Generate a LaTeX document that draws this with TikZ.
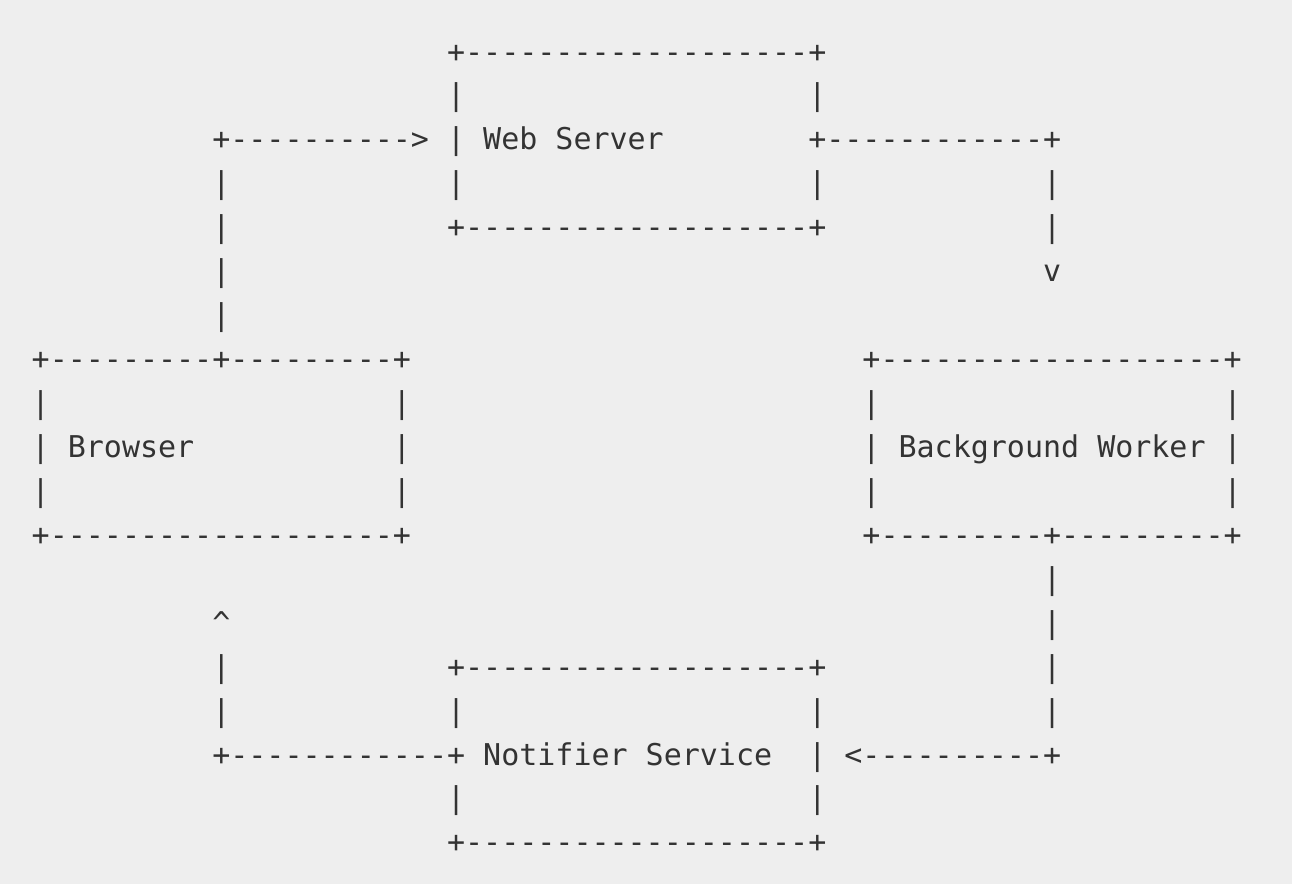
\documentclass[tikz,border=0pt]{standalone}
\usepackage{fontspec}
\setmonofont{DejaVu Sans Mono}
\definecolor{bg}{HTML}{EEEEEE}
\definecolor{ink}{HTML}{333333}
% place a run of characters at (column,row) of the character grid
\newcommand\asc[4]{\node[glyphs] (#1) at ({31.7+18.06*#2},{62+43.94*#3}) {#4};}
\begin{document}
\begin{tikzpicture}[x=1pt,y=-1pt,
  glyphs/.style={anchor=base west, inner sep=0pt, outer sep=0pt, text=ink,
    font=\ttfamily\fontsize{30}{36}\selectfont}]
\fill[bg] (0,0) rectangle (1292,884);
\useasboundingbox (0,0) rectangle (1292,884);
% Web Server box
\asc{wsT}{23}{0}{+-------------------+}
\asc{wsL1}{23}{1}{|}
\asc{wsR1}{43}{1}{|}
\asc{arrowIn}{10}{2}{+---------->}
\asc{ws}{23}{2}{| Web Server}
\asc{wsOut}{43}{2}{+------------+}
\asc{lA3}{10}{3}{|}
\asc{wsL3}{23}{3}{|}
\asc{wsR3}{43}{3}{|}
\asc{rA3}{56}{3}{|}
\asc{lA4}{10}{4}{|}
\asc{wsB}{23}{4}{+-------------------+}
\asc{rA4}{56}{4}{|}
\asc{lA5}{10}{5}{|}
\asc{rArrow}{56}{5}{v}
\asc{lA6}{10}{6}{|}
% Browser and Background Worker boxes
\asc{brT}{0}{7}{+---------+---------+}
\asc{bwT}{46}{7}{+-------------------+}
\asc{brL8}{0}{8}{|}
\asc{brR8}{20}{8}{|}
\asc{bwL8}{46}{8}{|}
\asc{bwR8}{66}{8}{|}
\asc{br}{0}{9}{| Browser}
\asc{brR9}{20}{9}{|}
\asc{bw}{46}{9}{| Background Worker |}
\asc{brL10}{0}{10}{|}
\asc{brR10}{20}{10}{|}
\asc{bwL10}{46}{10}{|}
\asc{bwR10}{66}{10}{|}
\asc{brB}{0}{11}{+-------------------+}
\asc{bwB}{46}{11}{+---------+---------+}
% lower connectors and Notifier Service box
\asc{rB12}{56}{12}{|}
\asc{lArrow}{10}{13}{\textasciicircum}
\asc{rB13}{56}{13}{|}
\asc{lB14}{10}{14}{|}
\asc{nsT}{23}{14}{+-------------------+}
\asc{rB14}{56}{14}{|}
\asc{lB15}{10}{15}{|}
\asc{nsL15}{23}{15}{|}
\asc{nsR15}{43}{15}{|}
\asc{rB15}{56}{15}{|}
\asc{ns}{10}{16}{+------------+ Notifier Service}
\asc{nsIn}{43}{16}{| <----------+}
\asc{nsL17}{23}{17}{|}
\asc{nsR17}{43}{17}{|}
\asc{nsB}{23}{18}{+-------------------+}
\end{tikzpicture}
\end{document}
